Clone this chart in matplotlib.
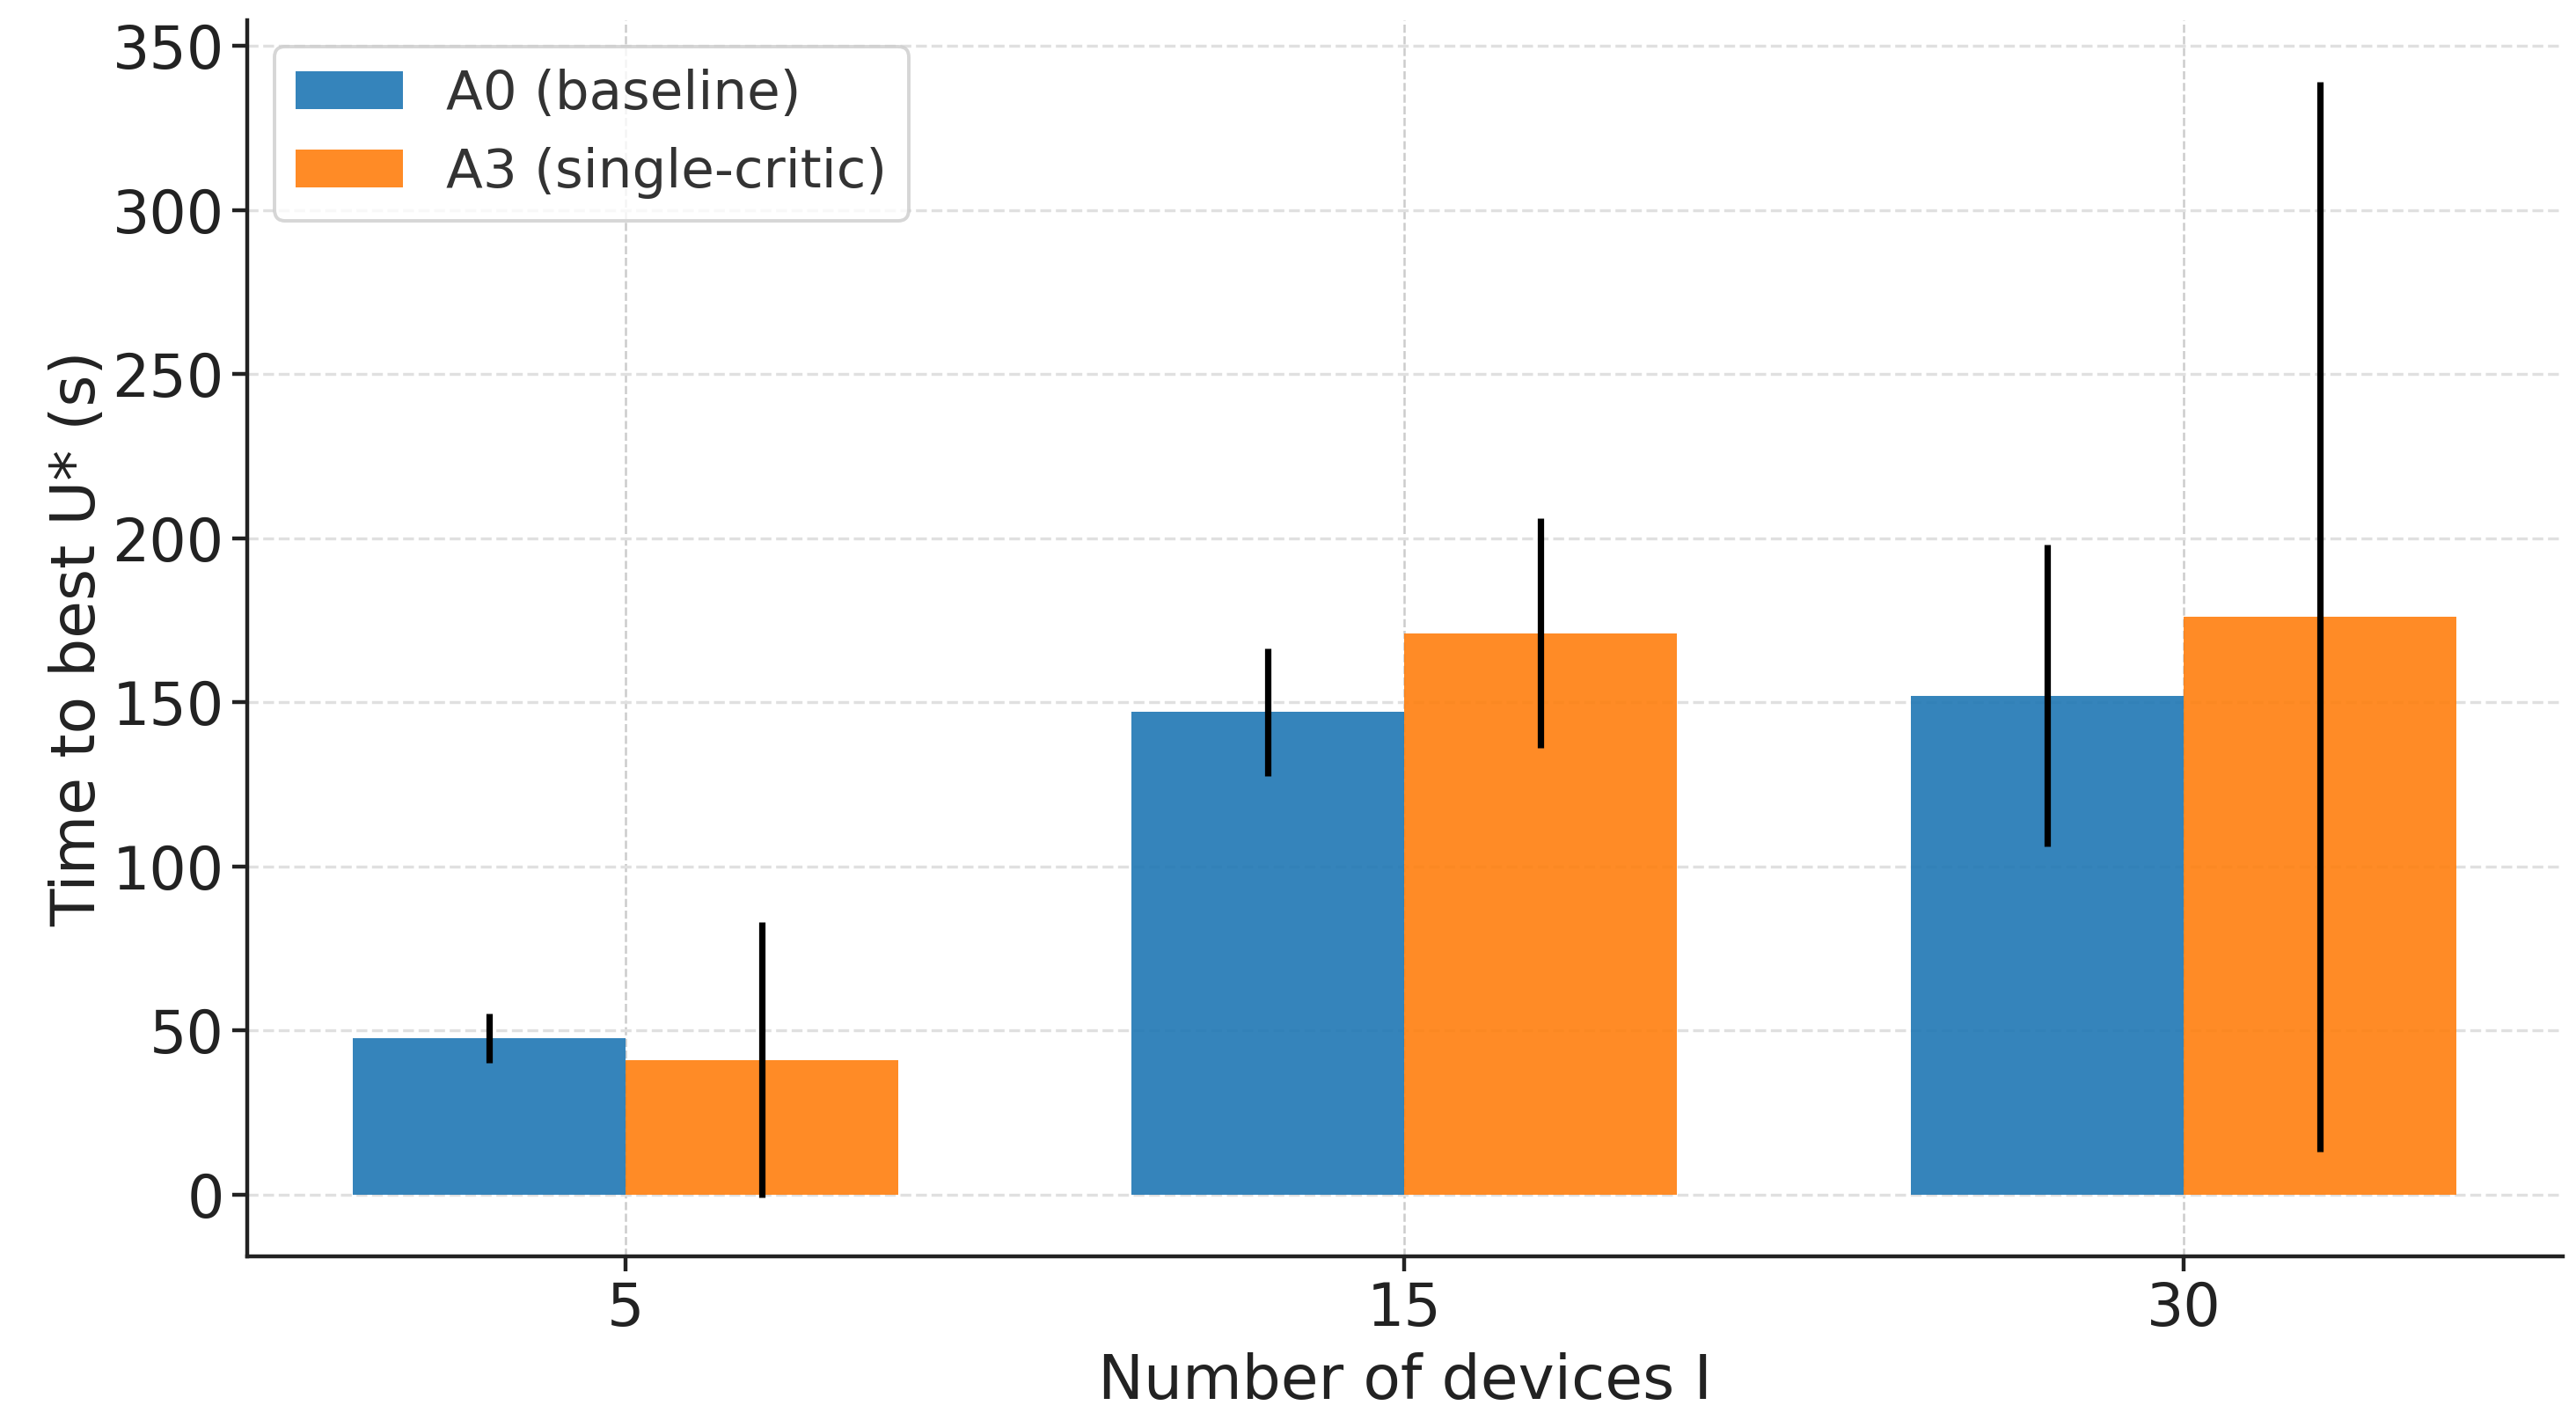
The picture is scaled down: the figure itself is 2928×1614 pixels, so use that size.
# Grouped bar chart: time to best U* for A0 vs A3 across device counts
import numpy as np
import matplotlib.pyplot as plt

# Categories (number of devices)
devices = ["5", "15", "30"]

# Mean time to best U* (s) and error (std) for each variant
a0_mean = [47.5, 147, 152]
a0_err = [7.5, 19.5, 46]
a3_mean = [41, 171, 176]
a3_err = [42, 35, 163]

labels = ["A0 (baseline)", "A3 (single-critic)"]

plt.rcParams['font.family'] = ['DejaVu Sans']

fig = plt.figure(figsize=(14.64, 8.07), dpi=200)
ax = fig.add_axes([0.096, 0.115, 0.899, 0.871])

x = np.arange(len(devices))
w = 0.35

err_kw = dict(ecolor='black', elinewidth=2.6, capsize=0)
ax.bar(x - w / 2, a0_mean, w, yerr=a0_err, color='#1f77b4', alpha=0.9,
       label=labels[0], error_kw=err_kw, zorder=2)
ax.bar(x + w / 2, a3_mean, w, yerr=a3_err, color='#ff7f0e', alpha=0.9,
       label=labels[1], error_kw=err_kw, zorder=2)

ax.set_xticks(x)
ax.set_xticklabels(devices)
ax.set_xlim(-0.485, 2.487)
ax.set_ylim(-19, 358)
ax.set_yticks(np.arange(0, 351, 50))

ax.set_xlabel("Number of devices I", fontsize=25, color='#222222', labelpad=6)
ax.set_ylabel("Time to best U* (s)", fontsize=25, color='#222222', labelpad=2)
ax.tick_params(axis='both', labelsize=24, width=1.6, length=6, colors='#222222')

# Light dashed grid
ax.grid(True, axis='y', linestyle='--', color='#e0e0e0', linewidth=1.2, zorder=0)
ax.grid(True, axis='x', linestyle='--', color='#cccccc', linewidth=0.9, zorder=0)
ax.set_axisbelow(True)

for side in ['top', 'right']:
    ax.spines[side].set_visible(False)
for side in ['left', 'bottom']:
    ax.spines[side].set_linewidth(1.6)
    ax.spines[side].set_color('#222222')

leg = ax.legend(loc='upper left', fontsize=22, frameon=True, fancybox=True,
                edgecolor='#cccccc', handlelength=2.0, borderpad=0.4,
                labelspacing=0.5, bbox_to_anchor=(0.0, 1.0))
leg.get_frame().set_linewidth(1.4)
for t in leg.get_texts():
    t.set_color('#333333')

fig.savefig("out.png", dpi=200)
